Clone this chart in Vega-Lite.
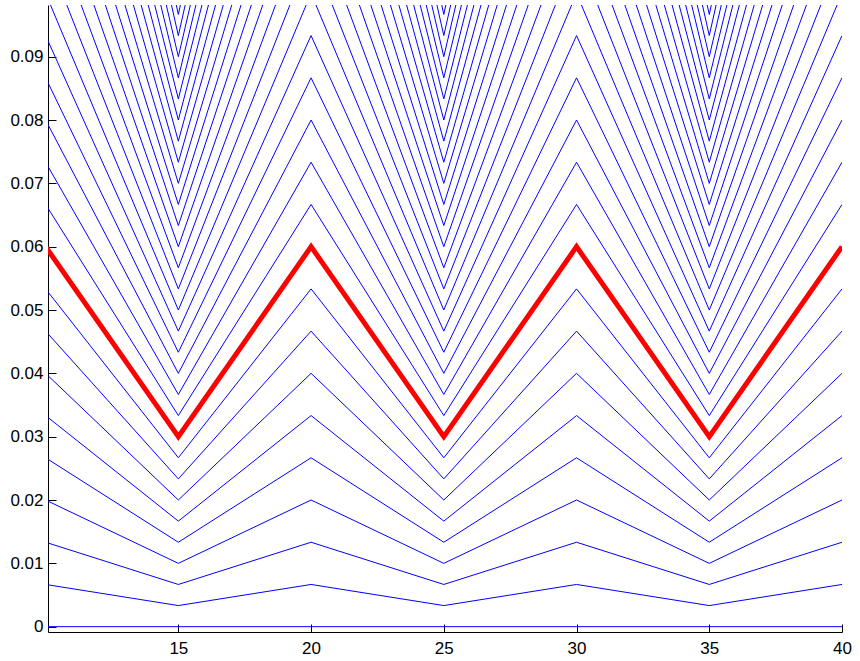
{
 "$schema": "https://vega.github.io/schema/vega-lite/v6.json",
 "width": 794, "height": 627,
 "autosize": {"type": "none"},
 "padding": {"left": 48, "top": 5, "right": 18, "bottom": 29},
 "background": "white",
 "config": {
  "view": {"stroke": null},
  "axis": {"domainColor": "black", "tickColor": "black", "labelColor": "black", "labelFont": "Liberation Sans", "labelFontSize": 17, "tickSize": -8, "grid": false, "domainWidth": 1, "tickWidth": 1, "title": null, "labelFlush": false, "labelOverlap": false}
 },
 "datasets": {
  "blue": [
{"k":0,"x":10,"v":0},{"k":0,"x":15,"v":0},{"k":0,"x":20,"v":0},{"k":0,"x":25,"v":0},{"k":0,"x":30,"v":0},{"k":0,"x":35,"v":0},{"k":0,"x":40,"v":0},
{"k":1,"x":10,"v":0.006667},{"k":1,"x":15,"v":0.003333},{"k":1,"x":20,"v":0.006667},{"k":1,"x":25,"v":0.003333},{"k":1,"x":30,"v":0.006667},{"k":1,"x":35,"v":0.003333},{"k":1,"x":40,"v":0.006667},
{"k":2,"x":10,"v":0.013333},{"k":2,"x":15,"v":0.006667},{"k":2,"x":20,"v":0.013333},{"k":2,"x":25,"v":0.006667},{"k":2,"x":30,"v":0.013333},{"k":2,"x":35,"v":0.006667},{"k":2,"x":40,"v":0.013333},
{"k":3,"x":10,"v":0.02},{"k":3,"x":15,"v":0.01},{"k":3,"x":20,"v":0.02},{"k":3,"x":25,"v":0.01},{"k":3,"x":30,"v":0.02},{"k":3,"x":35,"v":0.01},{"k":3,"x":40,"v":0.02},
{"k":4,"x":10,"v":0.026667},{"k":4,"x":15,"v":0.013333},{"k":4,"x":20,"v":0.026667},{"k":4,"x":25,"v":0.013333},{"k":4,"x":30,"v":0.026667},{"k":4,"x":35,"v":0.013333},{"k":4,"x":40,"v":0.026667},
{"k":5,"x":10,"v":0.033333},{"k":5,"x":15,"v":0.016667},{"k":5,"x":20,"v":0.033333},{"k":5,"x":25,"v":0.016667},{"k":5,"x":30,"v":0.033333},{"k":5,"x":35,"v":0.016667},{"k":5,"x":40,"v":0.033333},
{"k":6,"x":10,"v":0.04},{"k":6,"x":15,"v":0.02},{"k":6,"x":20,"v":0.04},{"k":6,"x":25,"v":0.02},{"k":6,"x":30,"v":0.04},{"k":6,"x":35,"v":0.02},{"k":6,"x":40,"v":0.04},
{"k":7,"x":10,"v":0.046667},{"k":7,"x":15,"v":0.023333},{"k":7,"x":20,"v":0.046667},{"k":7,"x":25,"v":0.023333},{"k":7,"x":30,"v":0.046667},{"k":7,"x":35,"v":0.023333},{"k":7,"x":40,"v":0.046667},
{"k":8,"x":10,"v":0.053333},{"k":8,"x":15,"v":0.026667},{"k":8,"x":20,"v":0.053333},{"k":8,"x":25,"v":0.026667},{"k":8,"x":30,"v":0.053333},{"k":8,"x":35,"v":0.026667},{"k":8,"x":40,"v":0.053333},
{"k":9,"x":10,"v":0.06},{"k":9,"x":15,"v":0.03},{"k":9,"x":20,"v":0.06},{"k":9,"x":25,"v":0.03},{"k":9,"x":30,"v":0.06},{"k":9,"x":35,"v":0.03},{"k":9,"x":40,"v":0.06},
{"k":10,"x":10,"v":0.066667},{"k":10,"x":15,"v":0.033333},{"k":10,"x":20,"v":0.066667},{"k":10,"x":25,"v":0.033333},{"k":10,"x":30,"v":0.066667},{"k":10,"x":35,"v":0.033333},{"k":10,"x":40,"v":0.066667},
{"k":11,"x":10,"v":0.073333},{"k":11,"x":15,"v":0.036667},{"k":11,"x":20,"v":0.073333},{"k":11,"x":25,"v":0.036667},{"k":11,"x":30,"v":0.073333},{"k":11,"x":35,"v":0.036667},{"k":11,"x":40,"v":0.073333},
{"k":12,"x":10,"v":0.08},{"k":12,"x":15,"v":0.04},{"k":12,"x":20,"v":0.08},{"k":12,"x":25,"v":0.04},{"k":12,"x":30,"v":0.08},{"k":12,"x":35,"v":0.04},{"k":12,"x":40,"v":0.08},
{"k":13,"x":10,"v":0.086667},{"k":13,"x":15,"v":0.043333},{"k":13,"x":20,"v":0.086667},{"k":13,"x":25,"v":0.043333},{"k":13,"x":30,"v":0.086667},{"k":13,"x":35,"v":0.043333},{"k":13,"x":40,"v":0.086667},
{"k":14,"x":10,"v":0.093333},{"k":14,"x":15,"v":0.046667},{"k":14,"x":20,"v":0.093333},{"k":14,"x":25,"v":0.046667},{"k":14,"x":30,"v":0.093333},{"k":14,"x":35,"v":0.046667},{"k":14,"x":40,"v":0.093333},
{"k":15,"x":10,"v":0.1},{"k":15,"x":15,"v":0.05},{"k":15,"x":20,"v":0.1},{"k":15,"x":25,"v":0.05},{"k":15,"x":30,"v":0.1},{"k":15,"x":35,"v":0.05},{"k":15,"x":40,"v":0.1},
{"k":16,"x":10,"v":0.106667},{"k":16,"x":15,"v":0.053333},{"k":16,"x":20,"v":0.106667},{"k":16,"x":25,"v":0.053333},{"k":16,"x":30,"v":0.106667},{"k":16,"x":35,"v":0.053333},{"k":16,"x":40,"v":0.106667},
{"k":17,"x":10,"v":0.113333},{"k":17,"x":15,"v":0.056667},{"k":17,"x":20,"v":0.113333},{"k":17,"x":25,"v":0.056667},{"k":17,"x":30,"v":0.113333},{"k":17,"x":35,"v":0.056667},{"k":17,"x":40,"v":0.113333},
{"k":18,"x":10,"v":0.12},{"k":18,"x":15,"v":0.06},{"k":18,"x":20,"v":0.12},{"k":18,"x":25,"v":0.06},{"k":18,"x":30,"v":0.12},{"k":18,"x":35,"v":0.06},{"k":18,"x":40,"v":0.12},
{"k":19,"x":10,"v":0.126667},{"k":19,"x":15,"v":0.063333},{"k":19,"x":20,"v":0.126667},{"k":19,"x":25,"v":0.063333},{"k":19,"x":30,"v":0.126667},{"k":19,"x":35,"v":0.063333},{"k":19,"x":40,"v":0.126667},
{"k":20,"x":10,"v":0.133333},{"k":20,"x":15,"v":0.066667},{"k":20,"x":20,"v":0.133333},{"k":20,"x":25,"v":0.066667},{"k":20,"x":30,"v":0.133333},{"k":20,"x":35,"v":0.066667},{"k":20,"x":40,"v":0.133333},
{"k":21,"x":10,"v":0.14},{"k":21,"x":15,"v":0.07},{"k":21,"x":20,"v":0.14},{"k":21,"x":25,"v":0.07},{"k":21,"x":30,"v":0.14},{"k":21,"x":35,"v":0.07},{"k":21,"x":40,"v":0.14},
{"k":22,"x":10,"v":0.146667},{"k":22,"x":15,"v":0.073333},{"k":22,"x":20,"v":0.146667},{"k":22,"x":25,"v":0.073333},{"k":22,"x":30,"v":0.146667},{"k":22,"x":35,"v":0.073333},{"k":22,"x":40,"v":0.146667},
{"k":23,"x":10,"v":0.153333},{"k":23,"x":15,"v":0.076667},{"k":23,"x":20,"v":0.153333},{"k":23,"x":25,"v":0.076667},{"k":23,"x":30,"v":0.153333},{"k":23,"x":35,"v":0.076667},{"k":23,"x":40,"v":0.153333},
{"k":24,"x":10,"v":0.16},{"k":24,"x":15,"v":0.08},{"k":24,"x":20,"v":0.16},{"k":24,"x":25,"v":0.08},{"k":24,"x":30,"v":0.16},{"k":24,"x":35,"v":0.08},{"k":24,"x":40,"v":0.16},
{"k":25,"x":10,"v":0.166667},{"k":25,"x":15,"v":0.083333},{"k":25,"x":20,"v":0.166667},{"k":25,"x":25,"v":0.083333},{"k":25,"x":30,"v":0.166667},{"k":25,"x":35,"v":0.083333},{"k":25,"x":40,"v":0.166667},
{"k":26,"x":10,"v":0.173333},{"k":26,"x":15,"v":0.086667},{"k":26,"x":20,"v":0.173333},{"k":26,"x":25,"v":0.086667},{"k":26,"x":30,"v":0.173333},{"k":26,"x":35,"v":0.086667},{"k":26,"x":40,"v":0.173333},
{"k":27,"x":10,"v":0.18},{"k":27,"x":15,"v":0.09},{"k":27,"x":20,"v":0.18},{"k":27,"x":25,"v":0.09},{"k":27,"x":30,"v":0.18},{"k":27,"x":35,"v":0.09},{"k":27,"x":40,"v":0.18},
{"k":28,"x":10,"v":0.186667},{"k":28,"x":15,"v":0.093333},{"k":28,"x":20,"v":0.186667},{"k":28,"x":25,"v":0.093333},{"k":28,"x":30,"v":0.186667},{"k":28,"x":35,"v":0.093333},{"k":28,"x":40,"v":0.186667},
{"k":29,"x":10,"v":0.193333},{"k":29,"x":15,"v":0.096667},{"k":29,"x":20,"v":0.193333},{"k":29,"x":25,"v":0.096667},{"k":29,"x":30,"v":0.193333},{"k":29,"x":35,"v":0.096667},{"k":29,"x":40,"v":0.193333}
  ],
  "red": [
{"x":10,"v":0.06},{"x":15,"v":0.03},{"x":20,"v":0.06},{"x":25,"v":0.03},{"x":30,"v":0.06},{"x":35,"v":0.03},{"x":40,"v":0.06}
  ]
 },
 "layer": [
  {
   "data": {"name": "blue"},
   "mark": {"type": "line", "color": "#0000ff", "strokeWidth": 1, "clip": true},
   "encoding": {
    "x": {"field": "x", "type": "quantitative", "scale": {"domain": [10.09, 40], "nice": false, "zero": false}, "axis": {"values": [15, 20, 25, 30, 35, 40], "labelPadding": 16}},
    "y": {"field": "v", "type": "quantitative", "scale": {"domain": [-0.00084, 0.09816], "nice": false, "zero": false}, "axis": {"values": [0, 0.01, 0.02, 0.03, 0.04, 0.05, 0.06, 0.07, 0.08, 0.09], "format": ".2~f", "labelPadding": 13}},
    "detail": {"field": "k", "type": "nominal"}
   }
  },
  {
   "data": {"name": "red"},
   "mark": {"type": "line", "color": "#ff0000", "strokeWidth": 5, "clip": true},
   "encoding": {
    "x": {"field": "x", "type": "quantitative"},
    "y": {"field": "v", "type": "quantitative"}
   }
  }
 ]
}
